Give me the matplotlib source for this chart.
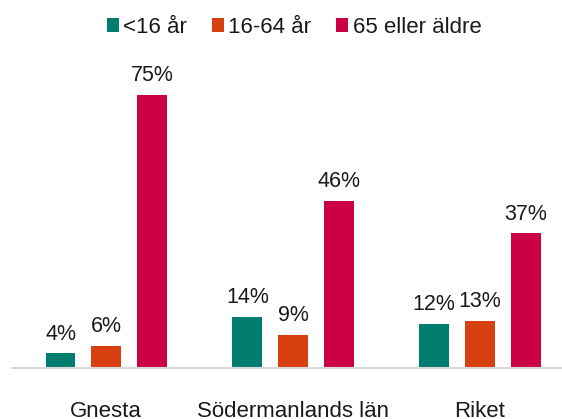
import numpy as np
import matplotlib
matplotlib.use("Agg")
from matplotlib import pyplot as plt

plt.rcParams['font.family'] = ['Liberation Sans', 'DejaVu Sans']

# data
regions = ["Gnesta", "Södermanlands län", "Riket"]
age_groups = ["<16 år", "16-64 år", "65 eller äldre"]
share_under16 = [4, 14, 12]
share_16_64 = [6, 9, 13]
share_65plus = [75, 46, 37]

colours = ["#007D6E", "#D84012", "#CC0044"]
series = [share_under16, share_16_64, share_65plus]

fig = plt.figure(figsize=(5.62, 4.19), dpi=100)
ax = fig.add_axes([12/562, 51/419, 550/562, 291/419])

x = np.arange(len(regions))
pitch = 0.245
width = 0.16
for i, (vals, lab, col) in enumerate(zip(series, age_groups, colours)):
    pos = x + (i - 1) * pitch
    bars = ax.bar(pos, vals, width=width, color=col, label=lab, zorder=2)
    for b, v in zip(bars, vals):
        ax.annotate(f"{v}%", (b.get_x() + b.get_width() / 2, b.get_height()),
                    xytext=(0, 10), textcoords="offset points",
                    ha="center", va="baseline", fontsize=15.5, color="#1a1a1a")

ax.set_xlim(-0.505, 2.44)
ax.set_ylim(0, 80)
ax.set_xticks(x)
ax.set_xticklabels(regions, fontsize=16, color="#1a1a1a")
ax.tick_params(axis="x", length=0, pad=24)
ax.set_yticks([])
for s in ["top", "right", "left"]:
    ax.spines[s].set_visible(False)
ax.spines["bottom"].set_color("#D9D9D9")
ax.spines["bottom"].set_linewidth(1.5)

fig.legend(loc="center", bbox_to_anchor=(294/562, 1 - 27.5/419), ncol=3,
           frameon=False, fontsize=16, handlelength=0.55, handleheight=0.55,
           handletextpad=0.2, columnspacing=1.1, labelcolor="#1a1a1a")

fig.savefig("out.png", dpi=100)
